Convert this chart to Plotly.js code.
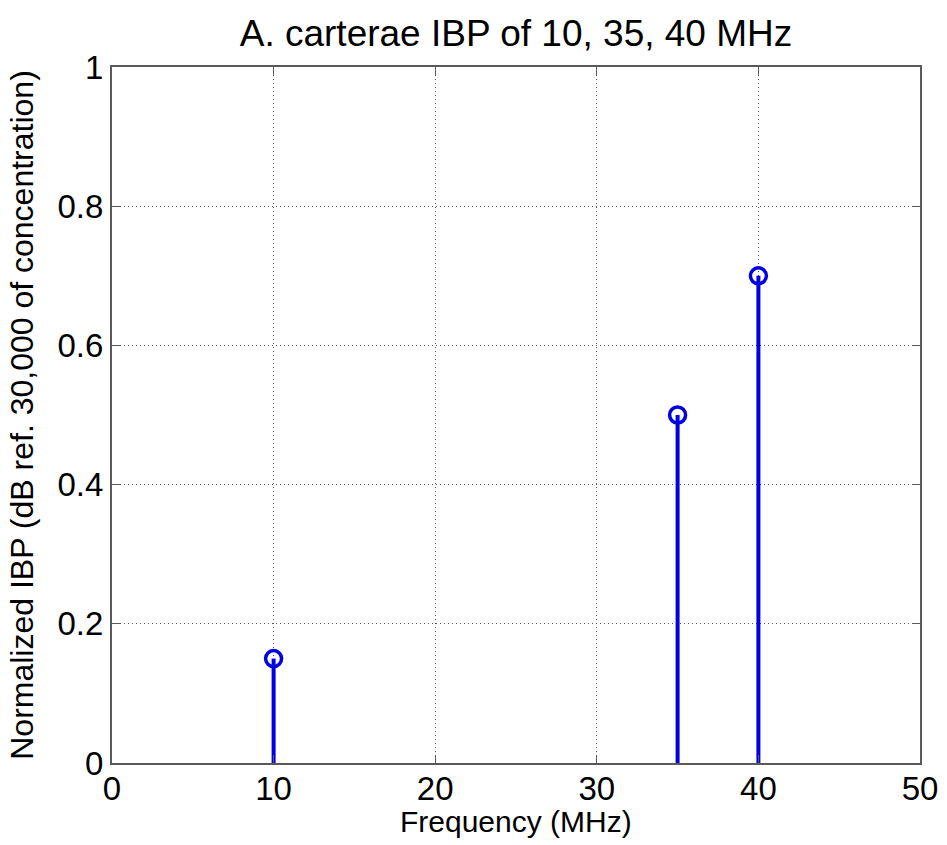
<!DOCTYPE html>
<html>
<head>
<meta charset="utf-8">
<script src="https://cdn.plot.ly/plotly-3.0.1.min.js"></script>
<style>html,body{margin:0;padding:0;background:#fff;}#chart{width:947px;height:845px;}</style>
</head>
<body>
<div id="chart"></div>
<script>
const freqs = [10, 35, 40];
const ibp = [0.15, 0.5, 0.7];
const xTicks = [0, 10, 20, 30, 40, 50];
const yTicks = [0, 0.2, 0.4, 0.6, 0.8, 1];
const yTickLabels = ['0', '0.2', '0.4', '0.6', '0.8', '1'];
const titleText = 'A. carterae IBP of 10, 35, 40 MHz';
const xTitle = 'Frequency (MHz)';
const yTitle = 'Normalized IBP (dB ref. 30,000 of concentration)';

const stemX = [], stemY = [];
freqs.forEach((f, i) => { stemX.push(f, f, null); stemY.push(0, ibp[i], null); });

const traces = [
  {x: stemX, y: stemY, mode: 'lines', line: {color: '#0000e0', width: 4}, hoverinfo: 'skip', showlegend: false},
  {x: freqs, y: ibp, mode: 'markers', marker: {symbol: 'circle-open', size: 16, color: '#0000e0', line: {width: 3.5, color: '#0000e0'}}, showlegend: false}
];

const fontFam = 'Liberation Sans, Arial, sans-serif';
const layout = {
  width: 947, height: 845,
  paper_bgcolor: '#ffffff', plot_bgcolor: '#ffffff',
  margin: {l: 112, r: 27, t: 67, b: 82},
  font: {family: fontFam, color: '#000'},
  title: {text: titleText, font: {size: 37, family: fontFam}, x: 0.5, xref: 'paper', y: 32, yref: 'container', yanchor: 'middle'},
  xaxis: {
    range: [0, 50], tickvals: xTicks, ticktext: xTicks.map(String),
    showgrid: true, gridcolor: '#555', griddash: '1px,3px', gridwidth: 1,
    showline: true, linecolor: '#5a5a5a', linewidth: 2, mirror: 'allticks',
    ticks: 'inside', ticklen: 8, tickcolor: '#5a5a5a', tickwidth: 1,
    tickfont: {size: 33, family: fontFam}, zeroline: false, ticklabelstandoff: -5
  },
  yaxis: {
    range: [0, 1], tickvals: yTicks, ticktext: yTickLabels,
    showgrid: true, gridcolor: '#555', griddash: '1px,3px', gridwidth: 1,
    showline: true, linecolor: '#5a5a5a', linewidth: 2, mirror: 'allticks',
    ticks: 'inside', ticklen: 8, tickcolor: '#5a5a5a', tickwidth: 1,
    tickfont: {size: 33, family: fontFam}, zeroline: false,
    title: {text: yTitle, font: {size: 32, family: fontFam}, standoff: 14}
  },
  annotations: [
    {text: xTitle, xref: 'paper', yref: 'paper', x: 0.5, y: 0, xanchor: 'center', yanchor: 'middle', yshift: -58, showarrow: false, font: {size: 30, family: fontFam, color: '#000'}}
  ]
};

Plotly.newPlot('chart', traces, layout, {displayModeBar: false, staticPlot: true});
</script>
</body>
</html>
